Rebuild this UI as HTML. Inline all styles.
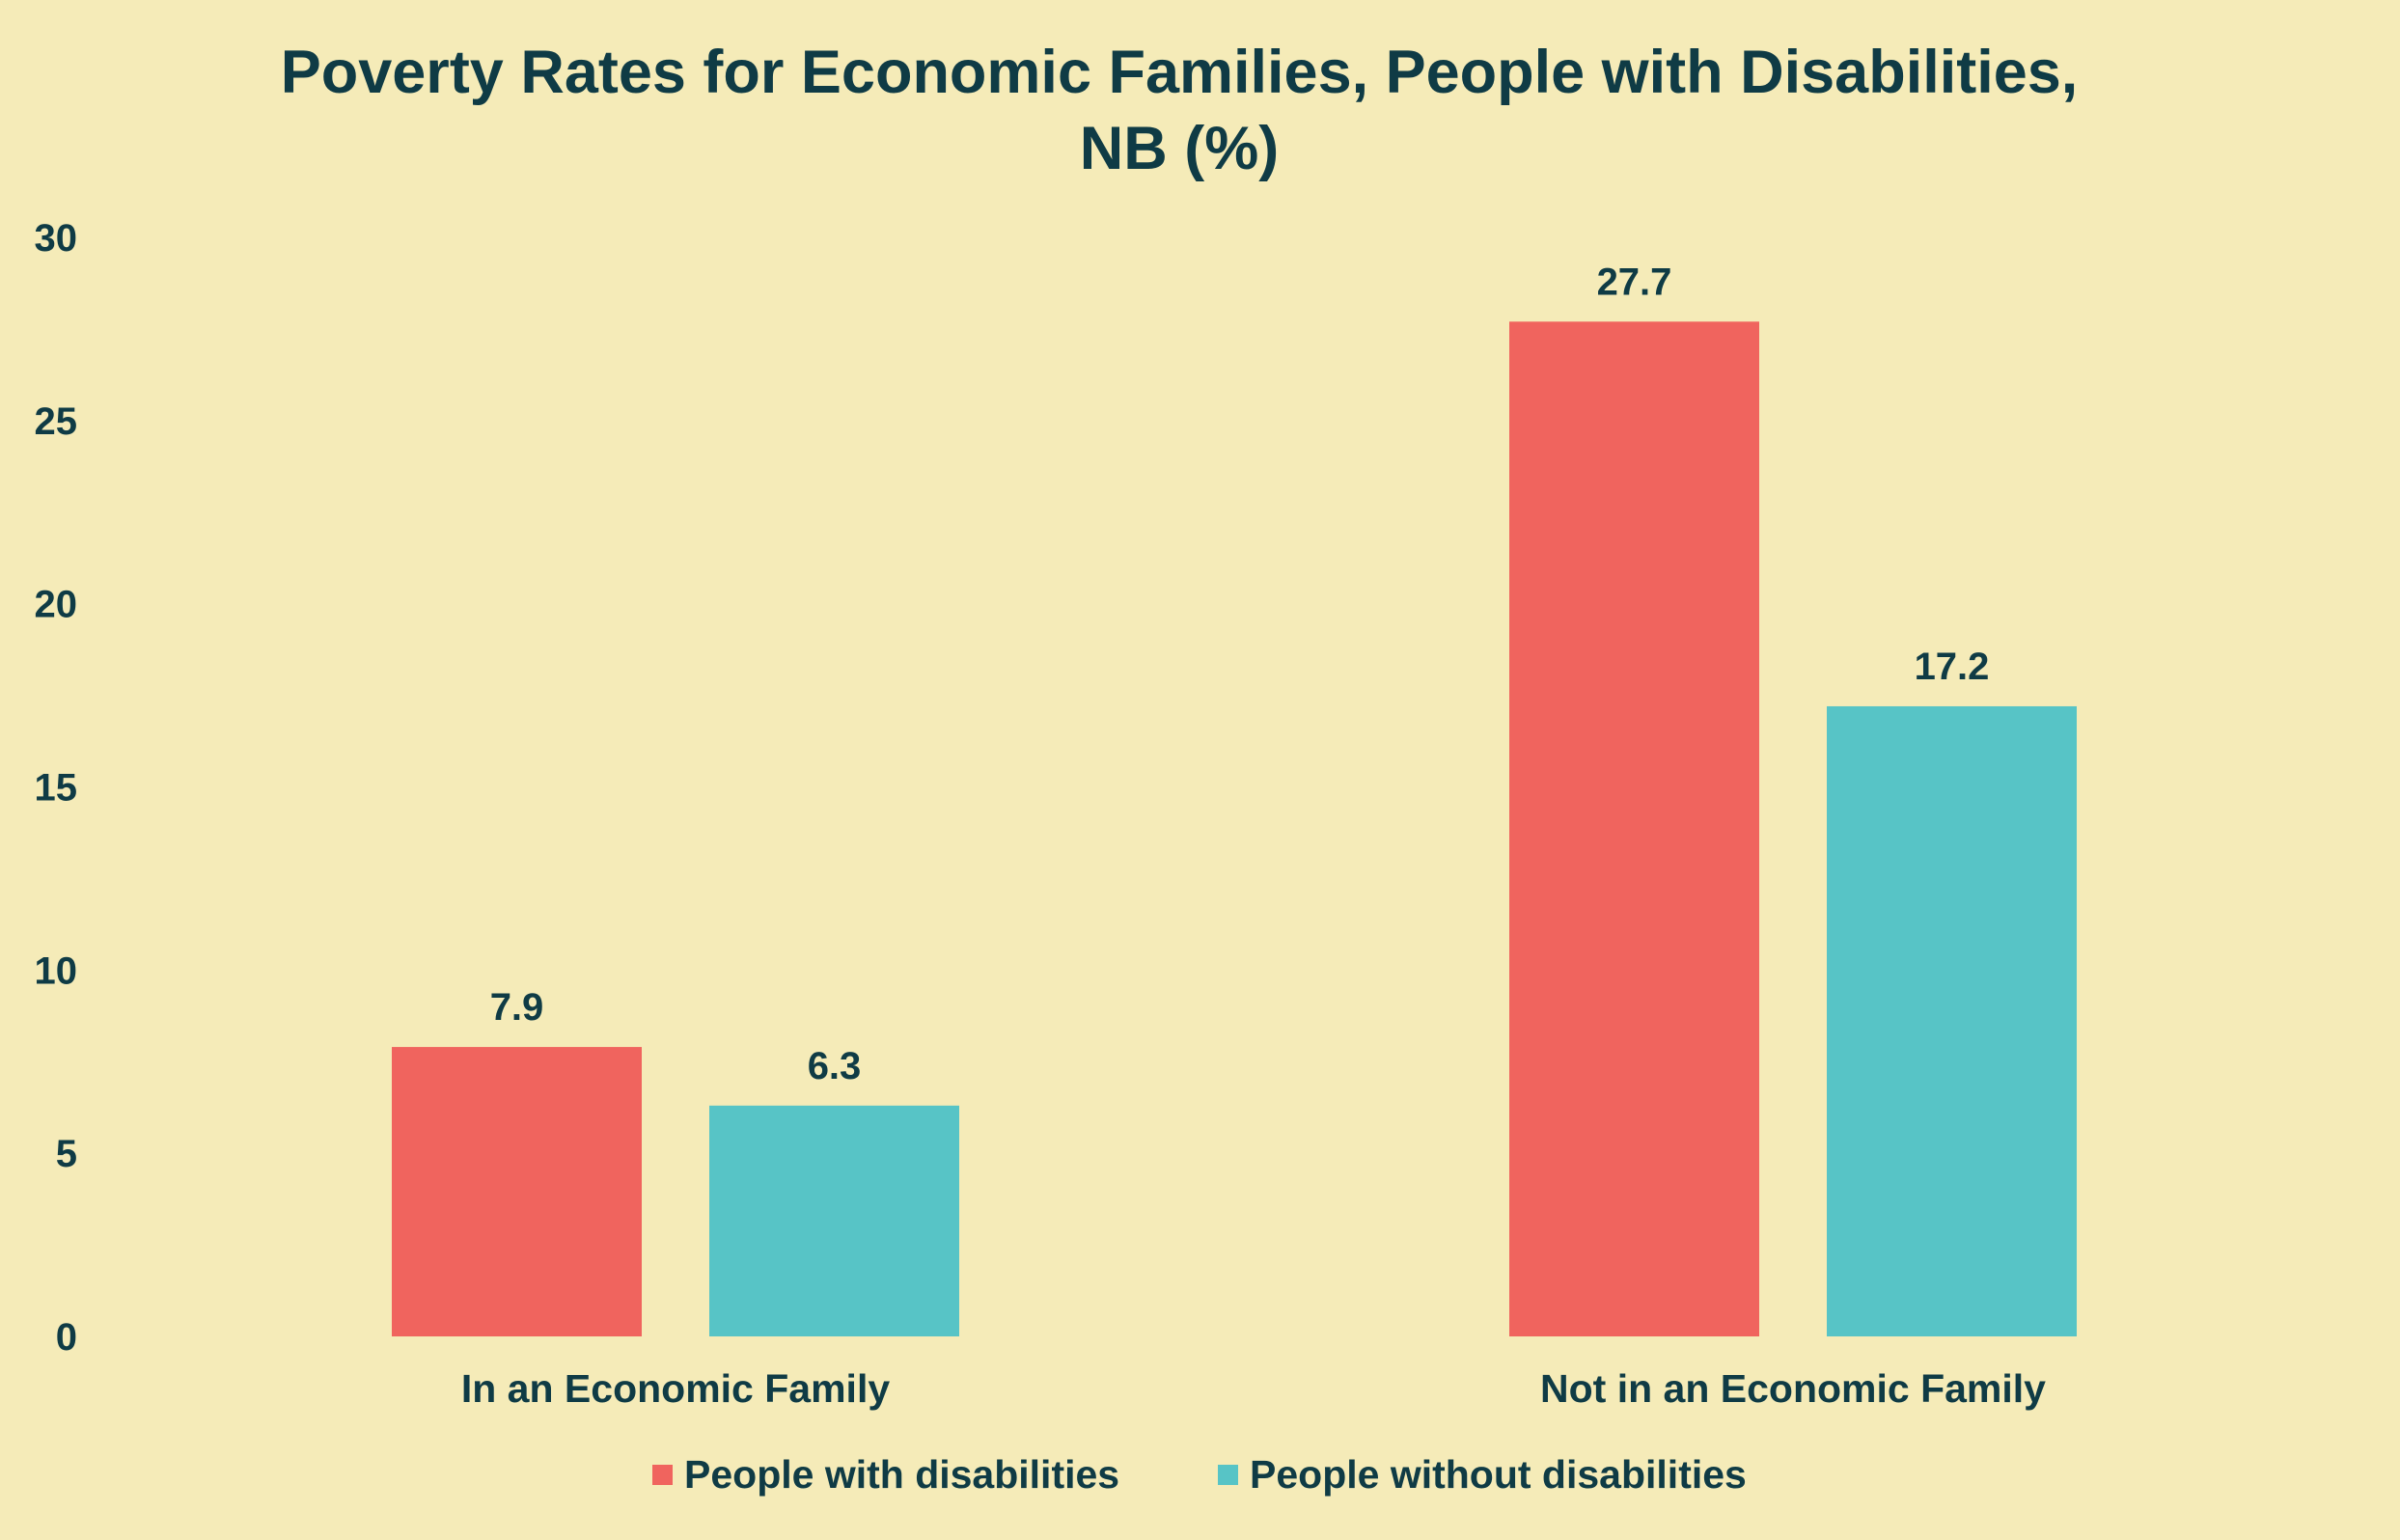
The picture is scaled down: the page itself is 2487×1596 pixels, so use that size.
<!DOCTYPE html>
<html><head><meta charset="utf-8"><style>
html,body{margin:0;padding:0;background:#F5EBB8;}
svg{display:block;font-family:"Liberation Sans",sans-serif;font-weight:bold;}
</style></head><body>
<svg id="chart" width="2487" height="1596" viewBox="0 0 2487 1596" xmlns="http://www.w3.org/2000/svg">
<rect width="2487" height="1596" fill="#F5EBB8"/>
<text x="1222" y="96" text-anchor="middle" font-size="63" fill="#0F3B45">Poverty Rates for Economic Families, People with Disabilities,</text>
<text x="1222" y="175" text-anchor="middle" font-size="63" fill="#0F3B45">NB (%)</text>
<g id="yaxis"></g>
<g id="bars"></g>
<g id="xaxis"></g>
<g>
<g>
<rect x="676" y="1518" width="21" height="21" fill="#F0645E"/>
<text x="709" y="1542" font-size="41" fill="#0F3B45">People with disabilities</text>
</g>
<g>
<rect x="1262" y="1518" width="21" height="21" fill="#57C4C6"/>
<text x="1295" y="1542" font-size="41" fill="#0F3B45">People without disabilities</text>
</g>
</g>
</svg>
<script>
const categories = ["In an Economic Family", "Not in an Economic Family"];
const withDisabilities = [7.9, 27.7];
const withoutDisabilities = [6.3, 17.2];
const yTicks = [0, 5, 10, 15, 20, 25, 30];

const NS = "http://www.w3.org/2000/svg";
const y0 = 1385, y30 = 246;
function yScale(v){ return y0 - (v/30)*(y0-y30); }
const groupCenters0 = 700, groupStep = 1158;
function xGroup(i){ return groupCenters0 + i*groupStep; }
const barW = 259, gap = 70;
function mk(tag, attrs, parent){
  const el = document.createElementNS(NS, tag);
  for (const k in attrs) el.setAttribute(k, attrs[k]);
  parent.appendChild(el);
  return el;
}
const yaxis = document.getElementById('yaxis');
yTicks.forEach(t=>{
  const el = mk('text', {x: 80, y: yScale(t)+14, 'text-anchor':'end', 'font-size':40, fill:'#0F3B45'}, yaxis);
  
  
  el.textContent = t;
});
const bars = document.getElementById('bars');
const xaxis = document.getElementById('xaxis');
const series = [[withDisabilities, '#F0645E', 'with'], [withoutDisabilities, '#57C4C6', 'without']];
categories.forEach((c,i)=>{
  const cx = xGroup(i);
  series.forEach((s,j)=>{
    const v = s[0][i];
    const x = j===0 ? cx - gap/2 - barW : cx + gap/2;
    const r = mk('rect', {x:x, y:yScale(v), width:barW, height:yScale(0)-yScale(v), fill:s[1]}, bars);
    
    
    const l = mk('text', {x:x+barW/2, y:yScale(v)-28, 'text-anchor':'middle', 'font-size':40, fill:'#0F3B45'}, bars);
    
    
    l.textContent = v.toFixed(1);
  });
  const t = mk('text', {x:cx, y:1453, 'text-anchor':'middle', 'font-size':41, fill:'#0F3B45'}, xaxis);
  
  
  t.textContent = c;
});
</script>
</body></html>
